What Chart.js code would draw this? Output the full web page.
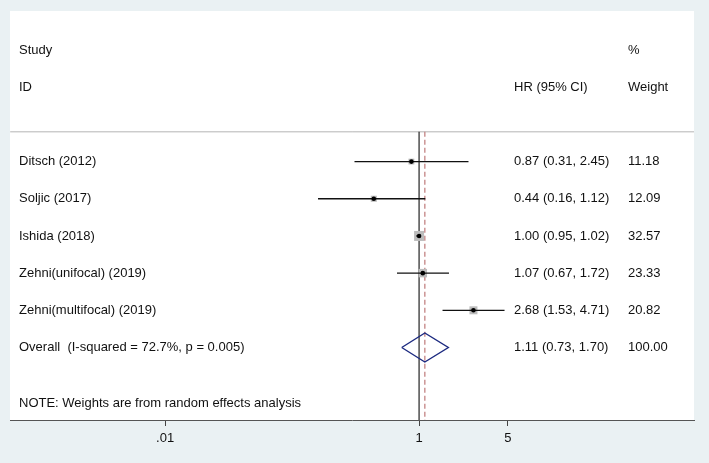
<!DOCTYPE html>
<html>
<head>
<meta charset="utf-8">
<script src="https://cdn.jsdelivr.net/npm/chart.js@4"></script>
<style>
    html, body { margin: 0; padding: 0; background: #eaf1f3; }
    #wrap { width: 709px; height: 463px; }
</style>
</head>
<body>
<div id="wrap"><canvas id="forest"></canvas></div>
<script>
// Forest plot data
const studies = ['Ditsch (2012)', 'Soljic (2017)', 'Ishida (2018)', 'Zehni(unifocal) (2019)', 'Zehni(multifocal) (2019)'];
const hr = [0.87, 0.44, 1.00, 1.07, 2.68];
const ciLow = [0.31, 0.16, 0.95, 0.67, 1.53];
const ciHigh = [2.45, 1.12, 1.02, 1.72, 4.71];
const weights = [11.18, 12.09, 32.57, 23.33, 20.82];

const overallLabel = 'Overall  (I-squared = 72.7%, p = 0.005)';
const overallHR = 1.11;
const overallLow = 0.73;
const overallHigh = 1.70;
const overallWeight = 100.00;

const noteText = 'NOTE: Weights are from random effects analysis';
const tickValues = [0.01, 1, 5];
const tickLabels = ['.01', '1', '5'];

// Layout (row positions on the y scale)
const X_MIN = 0.000602, X_MAX = 146.3;
const Y_MIN = -1.05, Y_MAX = 9.95;
const HEADER_LINE = 2.2;
const firstRow = 3;
const overallRow = firstRow + studies.length;
const noteRow = 9.5;
const FONT = '13px "Liberation Sans", Arial, sans-serif';

const fmt = v => v.toFixed(2);

const datasets = [];

// header separator
datasets.push({
    type: 'line', order: 9,
    data: [{ x: X_MIN, y: HEADER_LINE }, { x: X_MAX, y: HEADER_LINE }],
    borderColor: '#b4b4b4', borderWidth: 1, pointRadius: 0
});

// null line at 1
datasets.push({
    type: 'line', order: 8,
    data: [{ x: 1, y: HEADER_LINE }, { x: 1, y: Y_MAX }],
    borderColor: '#222', borderWidth: 1.2, pointRadius: 0
});

// overall estimate dashed line
datasets.push({
    type: 'line', order: 7,
    data: [{ x: overallHR, y: HEADER_LINE }, { x: overallHR, y: Y_MAX }],
    borderColor: '#c48484', borderWidth: 1.3, borderDash: [5, 3], pointRadius: 0
});

// weight squares
datasets.push({
    type: 'scatter', order: 6,
    data: studies.map((s, i) => ({ x: hr[i], y: firstRow + i })),
    pointStyle: 'rect',
    pointRadius: weights.map(w => 1.75 * Math.sqrt(w) / Math.SQRT2),
    backgroundColor: '#bcbcbc',
    borderWidth: 0
});

// confidence intervals
studies.forEach((s, i) => {
    datasets.push({
        type: 'line', order: 5,
        data: [{ x: ciLow[i], y: firstRow + i }, { x: ciHigh[i], y: firstRow + i }],
        borderColor: '#111', borderWidth: 1.3, pointRadius: 0
    });
});

// point estimates
datasets.push({
    type: 'scatter', order: 1,
    data: studies.map((s, i) => ({ x: hr[i], y: firstRow + i })),
    pointStyle: 'circle',
    pointRadius: 2.3,
    backgroundColor: '#000',
    borderWidth: 0
});

// overall diamond
datasets.push({
    type: 'line', order: 2,
    data: [
        { x: overallLow, y: overallRow },
        { x: overallHR, y: overallRow - 0.39 },
        { x: overallHigh, y: overallRow },
        { x: overallHR, y: overallRow + 0.39 },
        { x: overallLow, y: overallRow }
    ],
    borderColor: '#1c2a80', borderWidth: 1.4, pointRadius: 0, tension: 0
});

const backgroundPlugin = {
    id: 'panelBackground',
    beforeDraw(chart) {
        const { ctx, chartArea } = chart;
        ctx.save();
        ctx.fillStyle = '#eaf1f3';
        ctx.fillRect(0, 0, chart.width, chart.height);
        ctx.fillStyle = '#ffffff';
        ctx.fillRect(chartArea.left, chartArea.top, chartArea.right - chartArea.left, chartArea.bottom - chartArea.top);
        ctx.restore();
    }
};

const textPlugin = {
    id: 'forestText',
    afterDatasetsDraw(chart) {
        const { ctx } = chart;
        const y = chart.scales.y;
        const colLabel = 19, colHR = 514, colWeight = 628;
        ctx.save();
        ctx.font = FONT;
        ctx.fillStyle = '#111';
        ctx.textBaseline = 'middle';
        ctx.textAlign = 'left';

        ctx.fillText('Study', colLabel, y.getPixelForValue(0));
        ctx.fillText('%', colWeight, y.getPixelForValue(0));
        ctx.fillText('ID', colLabel, y.getPixelForValue(1));
        ctx.fillText('HR (95% CI)', colHR, y.getPixelForValue(1));
        ctx.fillText('Weight', colWeight, y.getPixelForValue(1));

        studies.forEach((s, i) => {
            const py = y.getPixelForValue(firstRow + i);
            ctx.fillText(s, colLabel, py);
            ctx.fillText(`${fmt(hr[i])} (${fmt(ciLow[i])}, ${fmt(ciHigh[i])})`, colHR, py);
            ctx.fillText(fmt(weights[i]), colWeight, py);
        });

        const oy = y.getPixelForValue(overallRow);
        ctx.fillText(overallLabel, colLabel, oy);
        ctx.fillText(`${fmt(overallHR)} (${fmt(overallLow)}, ${fmt(overallHigh)})`, colHR, oy);
        ctx.fillText(fmt(overallWeight), colWeight, oy);

        ctx.fillText(noteText, colLabel, y.getPixelForValue(noteRow));
        ctx.restore();
    }
};

new Chart(document.getElementById('forest'), {
    type: 'scatter',
    data: { datasets },
    plugins: [backgroundPlugin, textPlugin],
    options: {
        responsive: true,
        maintainAspectRatio: false,
        animation: false,
        layout: { padding: { left: 10, right: 15, top: 11, bottom: 0 } },
        plugins: {
            legend: { display: false },
            tooltip: { enabled: false }
        },
        scales: {
            x: {
                type: 'logarithmic',
                min: X_MIN,
                max: X_MAX,
                afterBuildTicks: scale => {
                    scale.ticks = tickValues.map(v => ({ value: v }));
                },
                afterFit: scale => { scale.height = 43; },
                ticks: {
                    autoSkip: false,
                    maxRotation: 0,
                    padding: 5,
                    color: '#111',
                    font: { family: '"Liberation Sans", Arial, sans-serif', size: 13 },
                    callback: value => {
                        const idx = tickValues.indexOf(value);
                        return idx >= 0 ? tickLabels[idx] : '';
                    }
                },
                grid: { drawOnChartArea: false, drawTicks: true, tickLength: 6, color: '#444' },
                border: { display: true, color: '#555', width: 1 }
            },
            y: {
                type: 'linear',
                reverse: true,
                min: Y_MIN,
                max: Y_MAX,
                display: false
            }
        }
    }
});
</script>
</body>
</html>
